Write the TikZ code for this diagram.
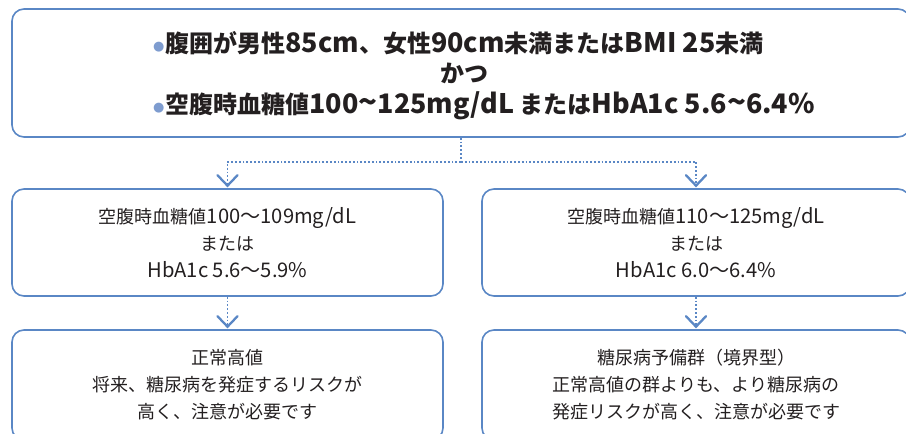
\documentclass[tikz,border=0pt]{standalone}
\usepackage{fontspec}
\setmainfont{Noto Sans CJK JP}
\newfontfamily\djv{DejaVu Sans}
\definecolor{boxblue}{HTML}{5A87C5}
\definecolor{bulblue}{HTML}{7E9CCF}
\definecolor{txt}{HTML}{231F20}
\newcommand\bulmark{{\djv\fontsize{13}{13}\selectfont\textcolor{bulblue}{\raisebox{1.5pt}{●}}}\hspace{1pt}}
\newcommand\lat[1]{{\addfontfeatures{Scale=1.12}#1}}
\newcommand\tld{{\addfontfeatures{Scale=1.3}\textasciitilde}}
\tikzset{
  box/.style={draw=boxblue, line width=1.6pt, rounded corners=12pt, inner sep=0pt,
    align=center, text=txt},
  connline/.style={draw=boxblue, line width=1.8pt, dotted},
  tipv/.style={draw=boxblue, line width=2.3pt, line cap=round, line join=miter},
  topfont/.style={font=\fontsize{24}{30.5}\selectfont\bfseries},
  subfont/.style={font=\fontsize{18}{27}\selectfont}
}
\begin{document}
\begin{tikzpicture}[x=1pt,y=-1pt]
\useasboundingbox (0,0) rectangle (906,434);
\clip (0,0) rectangle (906,434);
\node[box, minimum width=898pt, minimum height=128pt] (top) at (461,73) {};
\node[topfont, text=txt, inner sep=0pt, anchor=west, align=left] (toptxt) at (153,75.5)
  {\bulmark 腹囲が男性\lat{85cm}、女性\lat{90cm}未満または\lat{BMI 25}未満\\
   \hspace*{287pt}かつ\\
   \bulmark 空腹時血糖値\lat{100\tld125mg/dL} または\lat{HbA1c 5.6\tld6.4\%}};
\node[box, subfont, minimum width=431pt, minimum height=107pt] (l1) at (227.5,242.5)
  {空腹時血糖値\lat{100～109mg/dL}\\または\\\lat{HbA1c 5.6～5.9\%}};
\node[box, subfont, minimum width=428pt, minimum height=107pt] (r1) at (696,242.5)
  {空腹時血糖値\lat{110～125mg/dL}\\または\\\lat{HbA1c 6.0～6.4\%}};
\node[box, subfont, minimum width=431pt, minimum height=110pt] (l2) at (227.5,385)
  {正常高値\\将来、糖尿病を発症するリスクが\\高く、注意が必要です};
\node[box, subfont, minimum width=428pt, minimum height=110pt] (r2) at (696,385)
  {糖尿病予備群（境界型）\\正常高値の群よりも、より糖尿病の\\発症リスクが高く、注意が必要です};
\draw[connline] (top.south) -- ++(0,24) coordinate (j);
\draw[connline] (j) -| ([yshift=3pt]l1.north);
\draw[connline] (j) -| ([yshift=3pt]r1.north);
\draw[connline] (l1.south) -- ([yshift=3pt]l2.north);
\draw[connline] (r1.south) -- ([yshift=3pt]r2.north);
\foreach \n in {l1,r1,l2,r2}{
  \draw[tipv] ([xshift=-10pt,yshift=13pt]\n.north) -- ([yshift=2.5pt]\n.north) -- ([xshift=10pt,yshift=13pt]\n.north);
}
\end{tikzpicture}
\end{document}
